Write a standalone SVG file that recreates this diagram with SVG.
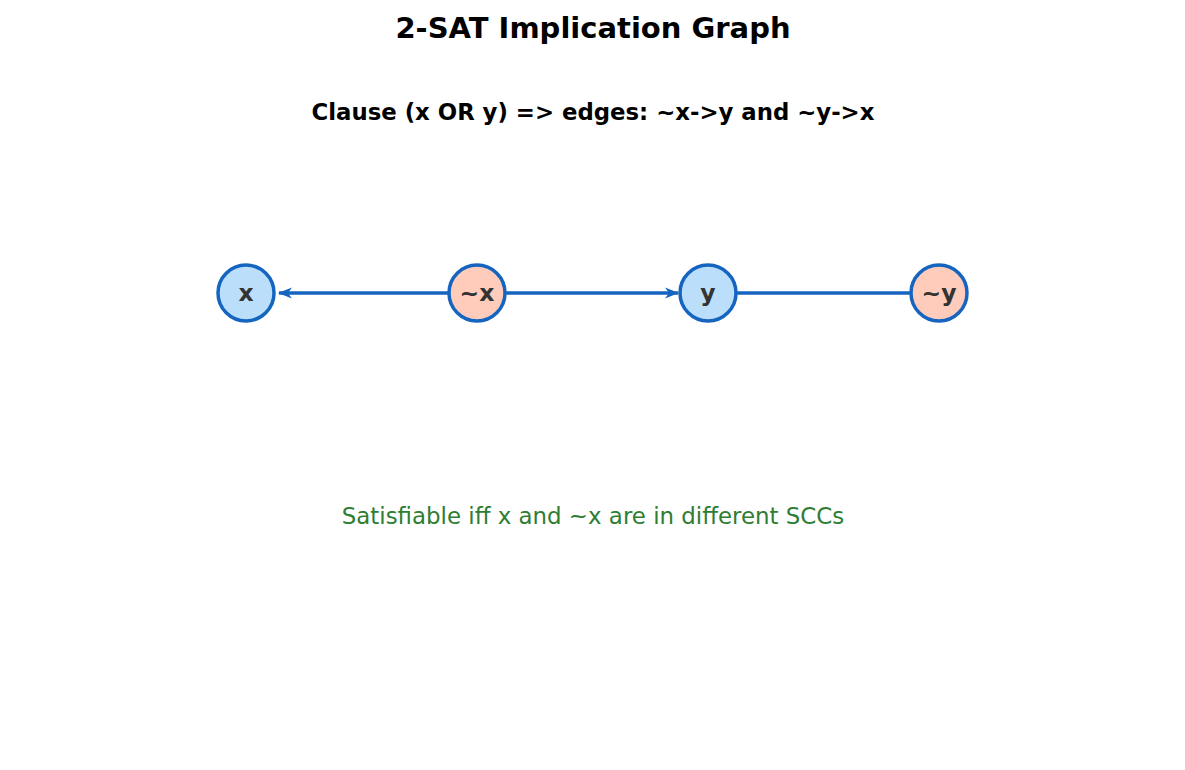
<svg xmlns="http://www.w3.org/2000/svg" width="1185" height="770" viewBox="0 0 1185 770">
<style>
.title{font-family:"DejaVu Sans",sans-serif;font-weight:bold;fill:#000;text-anchor:middle}
.node circle{stroke:#1565c0;stroke-width:3.5}
.pos{fill:#bbdefb}
.neg{fill:#ffccbc}
.lbl{font-family:"DejaVu Sans",sans-serif;font-weight:bold;font-size:23.5px;fill:#333;text-anchor:middle;dominant-baseline:central}
.edge{stroke:#1565c0;stroke-width:3.5;fill:none}
</style>
<defs>
<marker id="ah" viewBox="0 0 14 14" refX="13" refY="7" markerWidth="14" markerHeight="14" markerUnits="userSpaceOnUse" orient="auto">
<path d="M0,1.5 L14,7 L0,12.5 L4,7 Z" fill="#1565c0"/>
</marker>
</defs>
<rect width="1185" height="770" fill="#fff"/>
<text class="title" x="593" y="38" font-size="29">2-SAT Implication Graph</text>
<text class="title" x="593" y="120" font-size="22.8">Clause (x OR y) =&gt; edges: ~x-&gt;y and ~y-&gt;x</text>
<g id="edges">
<line class="edge" x1="448" y1="293" x2="279" y2="293" marker-end="url(#ah)"/>
<line class="edge" x1="506" y1="293" x2="678" y2="293" marker-end="url(#ah)"/>
<line class="edge" x1="737" y1="293" x2="910" y2="293"/>
</g>
<g id="node-x" class="node"><circle class="pos" cx="246" cy="293" r="28"/><text class="lbl" x="246" y="293">x</text></g>
<g id="node-notx" class="node"><circle class="neg" cx="477" cy="293" r="28"/><text class="lbl" x="477" y="293">~x</text></g>
<g id="node-y" class="node"><circle class="pos" cx="708" cy="293" r="28"/><text class="lbl" x="708" y="293">y</text></g>
<g id="node-noty" class="node"><circle class="neg" cx="939" cy="293" r="28"/><text class="lbl" x="939" y="293">~y</text></g>
<text x="593" y="524" font-family="DejaVu Sans,sans-serif" font-size="22.9" fill="#2e7d32" text-anchor="middle">Satisfiable iff x and ~x are in different SCCs</text>
</svg>
